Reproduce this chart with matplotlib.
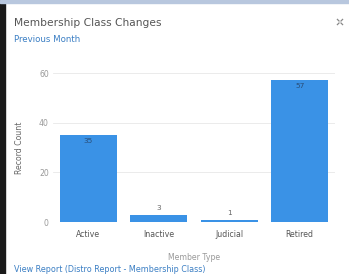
import matplotlib
matplotlib.use("Agg")
import matplotlib.pyplot as plt
from matplotlib.patches import Rectangle
from matplotlib.lines import Line2D

# Chart data
categories = ["Active", "Inactive", "Judicial", "Retired"]
record_counts = [35, 3, 1, 57]
y_ticks = [0, 20, 40, 60]

BAR_COLOR = "#3a92e6"
LINK_BLUE = "#3b7fc4"

W, H = 349, 274
fig = plt.figure(figsize=(W / 100, H / 100), dpi=100)
fig.patch.set_facecolor("white")

# frame decorations: dark left strip and light-blue top strip
fig.add_artist(Rectangle((0, 0), 5 / W, 1, transform=fig.transFigure,
                         color="#1a1a1a", zorder=0))
fig.add_artist(Rectangle((0, 1 - 3 / H), 1, 3 / H, transform=fig.transFigure,
                         color="#b8c7de", zorder=0))

fig.text(14 / W, 1 - 23 / H, "Membership Class Changes", fontsize=7.7,
         color="#555555", va="center", ha="left")
fig.text(14 / W, 1 - 40 / H, "Previous Month", fontsize=6.2,
         color=LINK_BLUE, va="center", ha="left")

# expand icon (four small corner marks)
cx, cy = 340, 22
for dx, dy in [(-1, -1), (1, -1), (-1, 1), (1, 1)]:
    fig.add_artist(Line2D([(cx + dx * 1) / W, (cx + dx * 2.6) / W],
                          [1 - (cy + dy * 1) / H, 1 - (cy + dy * 2.6) / H],
                          transform=fig.transFigure, color="#888888", lw=0.9))

left, right = 53, 335
top, bottom = 73, 222
ax = fig.add_axes([left / W, 1 - bottom / H, (right - left) / W, (bottom - top) / H])

x = range(len(categories))
bars = ax.bar(x, record_counts, width=0.81, color=BAR_COLOR, zorder=2)

ax.set_xlim(-0.5, len(categories) - 0.5)
ax.set_ylim(0, 60)
ax.set_yticks(y_ticks)
ax.set_xticks(list(x))
ax.set_xticklabels(categories)
ax.tick_params(axis="both", length=0, labelsize=5.6, colors="#555555")
ax.tick_params(axis="x", pad=6)
ax.tick_params(axis="y", pad=3, colors="#999999")
ax.grid(axis="y", color="#e8e8e8", linewidth=0.6, zorder=0)
for side in ax.spines.values():
    side.set_visible(False)

for rect, val in zip(bars, record_counts):
    bx = rect.get_x() + rect.get_width() / 2
    if val > 10:
        ax.text(bx, val - 1, str(val), ha="center", va="top", fontsize=5.3,
                color="#2a4e78")
    else:
        ax.text(bx, val + 1.5, str(val), ha="center", va="bottom", fontsize=5.3,
                color="#666666")

ax.set_xlabel("Member Type", fontsize=5.6, color="#999999", labelpad=10)
ax.set_ylabel("Record Count", fontsize=5.6, color="#666666", labelpad=11)

fig.text(14 / W, 1 - 270 / H, "View Report (Distro Report - Membership Class)",
         fontsize=5.8, color=LINK_BLUE, va="center", ha="left")

fig.savefig("out.png", dpi=100)
